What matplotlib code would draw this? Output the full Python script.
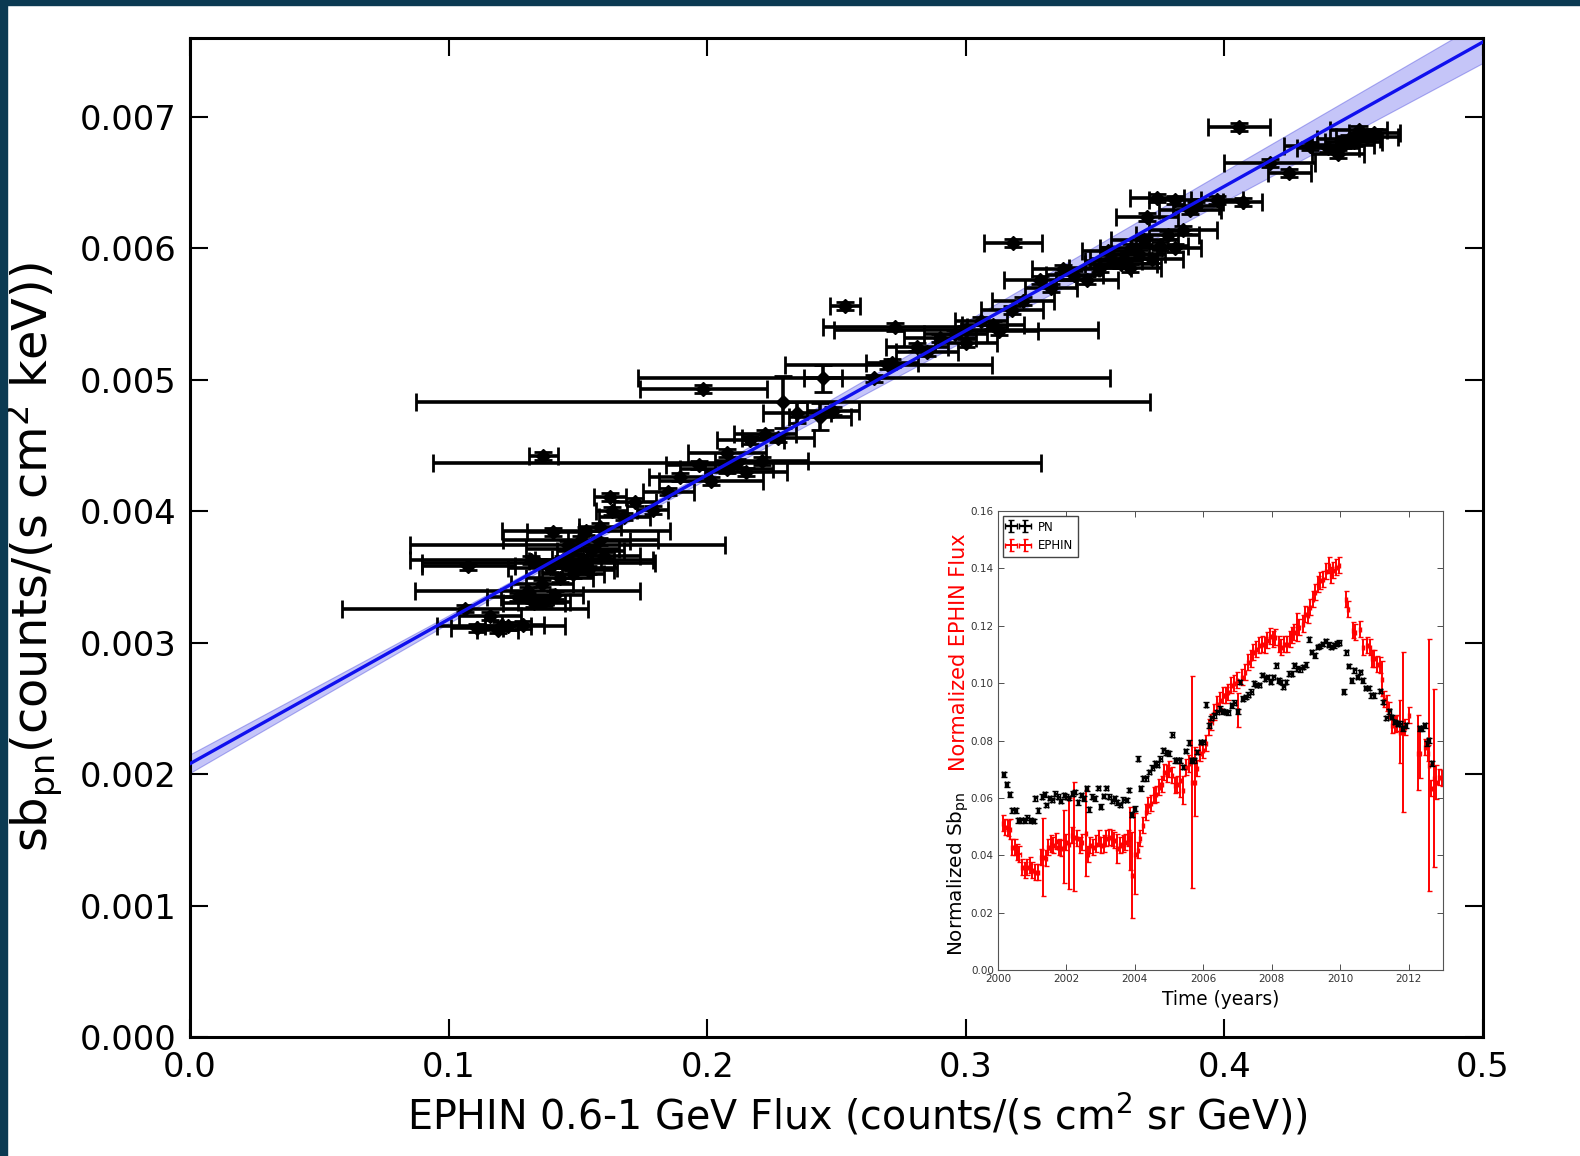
"""Sb_pn versus EPHIN 0.6-1 GeV flux, with the time-series inset."""

import matplotlib

matplotlib.use("Agg")
import matplotlib.pyplot as plt
import numpy as np
from matplotlib.patches import Rectangle

# ---- main panel: per-observation points ----
flux = [
    0.1063, 0.111, 0.116, 0.119, 0.123, 0.1203, 0.1288, 0.1075, 0.1347, 0.132,
    0.146, 0.1305, 0.153, 0.151, 0.1303, 0.133, 0.137, 0.141, 0.143, 0.148,
    0.150, 0.145, 0.152, 0.155, 0.1404, 0.1443, 0.158, 0.1585, 0.1624, 0.163,
    0.179, 0.160, 0.148, 0.139, 0.136, 0.154, 0.127,
    0.1365, 0.2115, 0.1985, 0.2293, 0.2645, 0.2448, 0.2533, 0.3183, 0.4056,
    0.1895, 0.197, 0.2015, 0.2076, 0.2166, 0.2223, 0.2274, 0.2347, 0.2436, 0.2487,
    0.2210, 0.2150, 0.185, 0.270, 0.2715, 0.2726, 0.300, 0.281, 0.290, 0.300,
    0.3105, 0.318, 0.3287, 0.3376, 0.347, 0.306, 0.313, 0.322, 0.333, 0.342,
    0.352, 0.357, 0.361, 0.364, 0.367, 0.369, 0.372, 0.375, 0.378, 0.381,
    0.384, 0.370, 0.374, 0.381, 0.3867, 0.397, 0.407, 0.389, 0.4176, 0.425,
    0.433, 0.440, 0.446, 0.450, 0.455, 0.458, 0.452, 0.444, 0.448, 0.360,
    0.355, 0.3635, 0.172, 0.168, 0.2075, 0.285, 0.296,
]
sb = [
    0.00326, 0.00311, 0.00320, 0.00310, 0.00313, 0.00313, 0.003135, 0.00358, 0.00361, 0.00363,
    0.00374, 0.00339, 0.00385, 0.00378, 0.00335, 0.00330, 0.00331, 0.00336, 0.00349, 0.00352,
    0.00357, 0.00362, 0.00364, 0.00370, 0.00384, 0.00363, 0.00377, 0.00388, 0.00411, 0.00400,
    0.00401, 0.00366, 0.00371, 0.00357, 0.00345, 0.00355, 0.00335,
    0.00442, 0.00437, 0.00493, 0.00483, 0.00501, 0.00501, 0.00556, 0.00604, 0.00692,
    0.00426, 0.00435, 0.00423, 0.00444, 0.00454, 0.00459, 0.00456, 0.00475, 0.00472, 0.00476,
    0.00438, 0.00430, 0.00415, 0.00511, 0.00513, 0.00540, 0.00538, 0.00525, 0.00532, 0.00528,
    0.00542, 0.00553, 0.00576, 0.00584, 0.00576, 0.00545, 0.00537, 0.00560, 0.00570, 0.00580,
    0.00585, 0.00590, 0.00592, 0.00600, 0.00596, 0.00606, 0.00592, 0.00602, 0.00610, 0.00600,
    0.00614, 0.00624, 0.00638, 0.00637, 0.00629, 0.00637, 0.00635, 0.00632, 0.00665, 0.00657,
    0.00678, 0.00676, 0.00679, 0.00681, 0.00685, 0.00688, 0.00690, 0.00672, 0.00683, 0.00588,
    0.00598, 0.00585, 0.00407, 0.00396, 0.00432, 0.00521, 0.00535,
]
flux_err = [
    0.0474, 0.010, 0.012, 0.008, 0.009, 0.0247, 0.008, 0.018, 0.045, 0.047,
    0.061, 0.0435, 0.0325, 0.030, 0.010, 0.012, 0.010, 0.011, 0.013, 0.012,
    0.015, 0.014, 0.012, 0.013, 0.010, 0.011, 0.012, 0.008, 0.006, 0.006,
    0.006, 0.014, 0.018, 0.016, 0.012, 0.010, 0.012,
    0.0056, 0.1175, 0.0246, 0.142, 0.0913, 0.0075, 0.0058, 0.0113, 0.0119,
    0.012, 0.013, 0.020, 0.015, 0.013, 0.012, 0.014, 0.013, 0.012, 0.010,
    0.018, 0.016, 0.010, 0.040, 0.010, 0.028, 0.051, 0.012, 0.014, 0.012,
    0.012, 0.012, 0.014, 0.012, 0.012, 0.010, 0.015, 0.012, 0.010, 0.011,
    0.012, 0.011, 0.013, 0.012, 0.010, 0.013, 0.012, 0.011, 0.012, 0.010,
    0.013, 0.012, 0.0104, 0.010, 0.012, 0.010, 0.0074, 0.009, 0.0176, 0.0083,
    0.010, 0.012, 0.012, 0.011, 0.012, 0.010, 0.011, 0.010, 0.012, 0.014,
    0.010, 0.012, 0.008, 0.010, 0.018, 0.012, 0.012,
]
sb_err_big = {40: 0.00020, 42: 0.00010, 53: 0.00008, 54: 0.00010}
sb_err = [sb_err_big.get(i, 0.00003) for i in range(len(flux))]

# linear fit and its confidence envelope
fit_intercept = 0.00208
fit_slope = 0.01098
band_pivot = 0.15
band_sig0 = 0.00002
band_sig_slope = 0.00045

# ---- inset: time series ----
pn_t = [
    2000.17, 2000.26, 2000.34, 2000.42, 2000.52, 2000.59, 2000.68, 2000.78, 2000.86, 2000.96,
    2001.04, 2001.09, 2001.17, 2001.29, 2001.37, 2001.41, 2001.51, 2001.59, 2001.68, 2001.76,
    2001.83, 2001.93, 2002.00, 2002.08, 2002.18, 2002.25, 2002.34, 2002.44, 2002.51, 2002.59,
    2002.66, 2002.75, 2002.83, 2002.93, 2003.00, 2003.09, 2003.17, 2003.25, 2003.34, 2003.41,
    2003.48, 2003.58, 2003.66, 2003.76, 2003.83, 2003.91, 2004.00, 2004.09, 2004.17, 2004.25,
    2004.34, 2004.42, 2004.51, 2004.59, 2004.66, 2004.75, 2004.83, 2004.91, 2004.99, 2005.09,
    2005.17, 2005.24, 2005.32, 2005.41, 2005.49, 2005.58, 2005.66, 2005.74, 2005.82, 2005.92,
    2006.00, 2006.08, 2006.18, 2006.24, 2006.32, 2006.41, 2006.49, 2006.57, 2006.65, 2006.73,
    2006.83, 2006.91, 2007.00, 2007.07, 2007.15, 2007.24, 2007.32, 2007.40, 2007.48, 2007.56,
    2007.64, 2007.73, 2007.80, 2007.88, 2007.97, 2008.05, 2008.13, 2008.20, 2008.27, 2008.34,
    2008.42, 2008.51, 2008.59, 2008.66, 2008.75, 2008.83, 2008.91, 2009.00, 2009.09, 2009.17,
    2009.25, 2009.34, 2009.41, 2009.49, 2009.58, 2009.66, 2009.74, 2009.82, 2009.90, 2009.98,
    2010.10, 2010.18, 2010.25, 2010.34, 2010.41, 2010.51, 2010.59, 2010.66, 2010.75, 2010.83,
    2010.91, 2010.99, 2011.17, 2011.25, 2011.35, 2011.44, 2011.51, 2011.59, 2011.68, 2011.76,
    2011.83, 2011.92, 2012.32, 2012.39, 2012.47, 2012.54, 2012.59, 2012.68,
]
pn_v = [
    0.0682, 0.0647, 0.0612, 0.0557, 0.0557, 0.0522, 0.0522, 0.0522, 0.0531, 0.0522,
    0.0519, 0.0598, 0.0557, 0.0604, 0.0612, 0.0575, 0.0600, 0.0592, 0.0615, 0.0604,
    0.0589, 0.0610, 0.0604, 0.0600, 0.0615, 0.0621, 0.0584, 0.0610, 0.0598, 0.0633,
    0.0560, 0.0604, 0.0598, 0.0635, 0.0569, 0.0606, 0.0635, 0.0604, 0.0589, 0.0598,
    0.0584, 0.0575, 0.0594, 0.0592, 0.0627, 0.0542, 0.0563, 0.0737, 0.0633, 0.0668,
    0.0668, 0.0691, 0.0705, 0.0720, 0.0716, 0.0737, 0.0766, 0.0758, 0.0755, 0.0821,
    0.0731, 0.0731, 0.0731, 0.0708, 0.0763, 0.0793, 0.0731, 0.0731, 0.0760, 0.0795,
    0.0795, 0.0925, 0.0853, 0.0879, 0.0888, 0.0900, 0.0911, 0.0902, 0.0900, 0.0898,
    0.0923, 0.0932, 0.0902, 0.1004, 0.0946, 0.0952, 0.0960, 0.0970, 0.0999, 0.0993,
    0.0993, 0.1028, 0.1016, 0.1022, 0.1004, 0.1022, 0.1062, 0.1010, 0.1004, 0.0987,
    0.1004, 0.1033, 0.1033, 0.1062, 0.1051, 0.1048, 0.1057, 0.1065, 0.1153, 0.1109,
    0.1097, 0.1126, 0.1130, 0.1136, 0.1147, 0.1134, 0.1126, 0.1132, 0.1138, 0.1141,
    0.0970, 0.1107, 0.1060, 0.1010, 0.1045, 0.1022, 0.1039, 0.1010, 0.0983, 0.0983,
    0.0958, 0.0958, 0.0972, 0.0935, 0.0879, 0.0902, 0.0882, 0.0865, 0.0859, 0.0859,
    0.0842, 0.0853, 0.0842, 0.0842, 0.0853, 0.0790, 0.0801, 0.0720,
]
ephin_t = [
    2000.15, 2000.22, 2000.29, 2000.34, 2000.42, 2000.49, 2000.56, 2000.63, 2000.70, 2000.78,
    2000.85, 2000.93, 2001.00, 2001.08, 2001.17, 2001.25, 2001.32, 2001.40, 2001.46, 2001.54,
    2001.61, 2001.69, 2001.77, 2001.83, 2001.92, 2002.00, 2002.08, 2002.16, 2002.23, 2002.31,
    2002.39, 2002.47, 2002.56, 2002.62, 2002.70, 2002.78, 2002.86, 2002.94, 2003.01, 2003.09,
    2003.17, 2003.25, 2003.33, 2003.40, 2003.48, 2003.56, 2003.64, 2003.72, 2003.80, 2003.85,
    2003.92, 2004.00, 2004.08, 2004.16, 2004.24, 2004.32, 2004.39, 2004.48, 2004.56, 2004.63,
    2004.71, 2004.78, 2004.85, 2004.93, 2005.00, 2005.08, 2005.16, 2005.24, 2005.32, 2005.41,
    2005.49, 2005.58, 2005.67, 2005.76, 2005.83, 2005.91, 2006.00, 2006.08, 2006.17, 2006.24,
    2006.32, 2006.41, 2006.49, 2006.57, 2006.65, 2006.73, 2006.81, 2006.90, 2006.98, 2007.02,
    2007.12, 2007.22, 2007.32, 2007.40, 2007.46, 2007.54, 2007.63, 2007.71, 2007.79, 2007.87,
    2007.95, 2008.03, 2008.10, 2008.20, 2008.27, 2008.35, 2008.44, 2008.52, 2008.60, 2008.66,
    2008.73, 2008.81, 2008.90, 2008.98, 2009.05, 2009.12, 2009.20, 2009.27, 2009.35, 2009.41,
    2009.49, 2009.58, 2009.66, 2009.74, 2009.80, 2009.88, 2009.96, 2010.18, 2010.24, 2010.37,
    2010.44, 2010.59, 2010.68, 2010.78, 2010.86, 2010.93, 2010.99, 2011.07, 2011.15, 2011.22,
    2011.29, 2011.37, 2011.44, 2011.51, 2011.59, 2011.66, 2011.76, 2011.83, 2011.90, 2012.00,
    2012.26, 2012.32, 2012.49, 2012.56, 2012.60, 2012.66, 2012.73, 2012.81, 2012.89, 2012.97,
]
ephin_v = [
    0.0511, 0.0499, 0.0496, 0.0493, 0.0430, 0.0430, 0.0412, 0.0406, 0.0360, 0.0348,
    0.0360, 0.0366, 0.0348, 0.0343, 0.0343, 0.0395, 0.0395, 0.0389, 0.0430, 0.0441,
    0.0435, 0.0449, 0.0430, 0.0424, 0.0430, 0.0447, 0.0441, 0.0470, 0.0464, 0.0459,
    0.0435, 0.0447, 0.0476, 0.0406, 0.0435, 0.0430, 0.0441, 0.0459, 0.0435, 0.0441,
    0.0459, 0.0464, 0.0461, 0.0453, 0.0424, 0.0435, 0.0441, 0.0447, 0.0459, 0.0459,
    0.0331, 0.0406, 0.0418, 0.0459, 0.0505, 0.0552, 0.0575, 0.0581, 0.0610, 0.0615,
    0.0639, 0.0647, 0.0691, 0.0685, 0.0702, 0.0679, 0.0644, 0.0650, 0.0662, 0.0627,
    0.0708, 0.0720, 0.0656, 0.0656, 0.0705, 0.0755, 0.0766, 0.0790, 0.0848, 0.0865,
    0.0900, 0.0929, 0.0940, 0.0958, 0.0958, 0.0970, 0.0993, 0.0999, 0.1010, 0.0906,
    0.1022, 0.1039, 0.1074, 0.1086, 0.1109, 0.1120, 0.1132, 0.1138, 0.1134, 0.1150,
    0.1165, 0.1155, 0.1161, 0.1138, 0.1126, 0.1138, 0.1138, 0.1155, 0.1167, 0.1179,
    0.1196, 0.1196, 0.1208, 0.1242, 0.1237, 0.1266, 0.1295, 0.1318, 0.1347, 0.1358,
    0.1364, 0.1390, 0.1411, 0.1376, 0.1393, 0.1405, 0.1411, 0.1292, 0.1260, 0.1184,
    0.1178, 0.1190, 0.1126, 0.1132, 0.1126, 0.1086, 0.1086, 0.1068, 0.1062, 0.1016,
    0.0944, 0.0932, 0.0906, 0.0853, 0.0859, 0.0861, 0.0830, 0.0830, 0.0848, 0.0888,
    0.0758, 0.0758, 0.0778, 0.0758, 0.0714, 0.0633, 0.0668, 0.0656, 0.0673, 0.0668,
]
ephin_err_big = {
    3: 0.0035, 16: 0.0136, 24: 0.0128, 26: 0.0160, 28: 0.0190, 32: 0.0150,
    44: 0.0050, 49: 0.0110, 50: 0.0150, 51: 0.0140, 68: 0.0060, 69: 0.0050,
    72: 0.0370, 73: 0.0120, 89: 0.0060, 110: 0.0050, 139: 0.0060, 146: 0.0110,
    147: 0.0280, 150: 0.0130, 151: 0.0090, 154: 0.0440, 156: 0.0310, 157: 0.0060,
}
ephin_err = [ephin_err_big.get(i, 0.0028) for i in range(len(ephin_t))]

BORDER = "#0b3a52"

fig = plt.figure(figsize=(15.8, 11.56), dpi=100)
fig.patches.append(Rectangle((0, 0.9957), 1, 0.0043, transform=fig.transFigure,
                             color=BORDER, zorder=0))
fig.patches.append(Rectangle((0, 0), 0.0045, 1, transform=fig.transFigure,
                             color=BORDER, zorder=0))

ax = fig.add_axes([0.1203, 0.1029, 0.8183, 0.8642])
xs = np.linspace(0.0, 0.5, 200)
line = fit_intercept + fit_slope * xs
sig = np.sqrt(band_sig0 ** 2 + (band_sig_slope * (xs - band_pivot)) ** 2)
ax.fill_between(xs, line - sig, line + sig, color="#8080f0", alpha=0.45,
                edgecolor="#5050e0", linewidth=0.8, zorder=1)
ax.errorbar(flux, sb, xerr=flux_err, yerr=sb_err, fmt="D", color="black",
            ms=7.5, elinewidth=2.6, capsize=6.5, capthick=2.0, zorder=2)
ax.plot(xs, line, color="#1010ee", lw=2.4, zorder=3)

ax.set_xlim(0.0, 0.5)
ax.set_ylim(0.0, 0.0076)
ax.set_xticks(np.arange(0.0, 0.51, 0.1))
ax.set_yticks(np.arange(0.0, 0.0071, 0.001))
ax.set_yticklabels([f"{v:.3f}" for v in np.arange(0.0, 0.0071, 0.001)])
ax.tick_params(direction="in", length=13, width=1.5, top=True, right=True,
               labelsize=24.3, pad=10)
for s in ax.spines.values():
    s.set_linewidth(2.2)
ax.set_xlabel(r"EPHIN 0.6-1 GeV Flux (counts/(s cm$^2$ sr GeV))", fontsize=28.5,
              labelpad=6)
ax.xaxis.label.set_x(0.516)
ax.set_ylabel(r"sb$_{\mathrm{pn}}$(counts/(s cm$^2$ keV))", fontsize=34.5)
ax.yaxis.set_label_coords(-0.0965, 0.48)

# ---- inset ----
ins = fig.add_axes([0.6316, 0.1609, 0.2816, 0.3970])
ins.errorbar(pn_t, pn_v, xerr=0.04, yerr=0.0008, fmt="none", ecolor="black",
             elinewidth=1.6, capsize=2, label="PN", zorder=3)
ins.errorbar(ephin_t, ephin_v, xerr=0.03, yerr=ephin_err, fmt="none", ecolor="red",
             elinewidth=1.4, capsize=1.8, label="EPHIN", zorder=2)
ins.set_xlim(2000, 2013)
ins.set_ylim(0.0, 0.16)
ins.set_xticks(np.arange(2000, 2013, 2))
ins.set_yticks(np.arange(0.0, 0.161, 0.02))
ins.set_yticklabels([f"{v:.2f}" for v in np.arange(0.0, 0.161, 0.02)])
ins.tick_params(direction="in", length=4, width=0.6, top=True, right=True,
                labelsize=7.5, pad=3, colors="#333333")
for s in ins.spines.values():
    s.set_linewidth(0.8)
    s.set_color("#555555")
ins.set_xlabel("Time (years)", fontsize=13.4, labelpad=4)
leg = ins.legend(loc="upper left", fontsize=8.5, numpoints=2, handlelength=1.8,
                 borderaxespad=0.4, fancybox=False, framealpha=1)
leg.get_frame().set_edgecolor("#444444")
fig.text(0.6062, 0.244, r"Normalized Sb$_{\mathrm{pn}}$", rotation=90,
         fontsize=14.4, color="black", ha="center", va="center")
fig.text(0.6068, 0.436, "Normalized EPHIN Flux", rotation=90,
         fontsize=15, color="red", ha="center", va="center")

fig.savefig("out.png", dpi=100)
